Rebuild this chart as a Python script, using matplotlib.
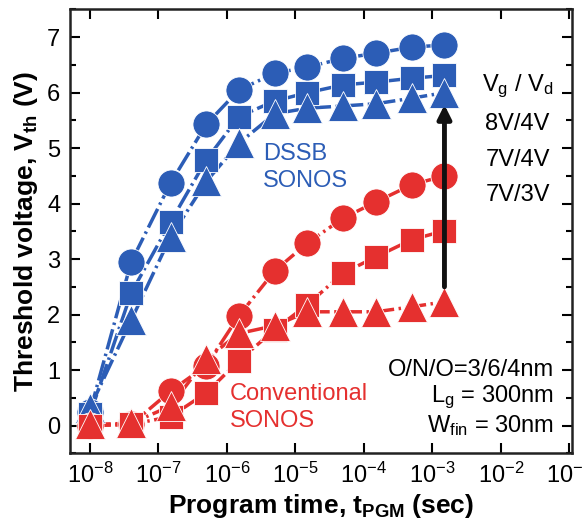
import numpy as np
import matplotlib
matplotlib.use("Agg")
import matplotlib.pyplot as plt

plt.rcParams['font.family'] = ['Liberation Sans', 'DejaVu Sans']
plt.rcParams['mathtext.fontset'] = 'custom'
plt.rcParams['mathtext.rm'] = 'Liberation Sans'
plt.rcParams['mathtext.it'] = 'Liberation Sans'
plt.rcParams['mathtext.bf'] = 'Liberation Sans:bold'

# program time (sec)
t_pgm = [1e-8, 4e-8, 1.5e-7, 5e-7, 1.5e-6, 5e-6, 1.5e-5, 5e-5, 1.5e-4, 5e-4, 1.5e-3]

# DSSB SONOS, Vth (V)
dssb_8v4v = [0.25, 2.95, 4.37, 5.43, 6.05, 6.35, 6.46, 6.62, 6.71, 6.82, 6.86]
dssb_7v4v = [0.20, 2.39, 3.67, 4.79, 5.57, 5.85, 6.00, 6.14, 6.19, 6.26, 6.31]
dssb_7v3v = [0.32, 1.90, 3.40, 4.40, 5.09, 5.62, 5.72, 5.76, 5.80, 5.90, 6.00]

# conventional SONOS, Vth (V)
conv_8v4v = [0.0, 0.02, 0.62, 1.08, 1.98, 2.79, 3.29, 3.74, 4.03, 4.34, 4.50]
conv_7v4v = [0.0, 0.02, 0.16, 0.59, 1.17, 1.73, 2.18, 2.75, 3.04, 3.35, 3.51]
conv_7v3v = [0.02, 0.04, 0.35, 1.20, 1.66, 1.80, 2.05, 2.05, 2.05, 2.14, 2.23]

blue = '#2c5db6'
red = '#e5302f'

fig = plt.figure(figsize=(5.83, 5.24), dpi=100)
ax = fig.add_axes([0.12, 0.135, 0.861, 0.847])

dash = (0, (6, 1.3, 0.7, 1.3))
for ys, col in [(dssb_8v4v, blue), (dssb_7v4v, blue), (dssb_7v3v, blue),
                (conv_8v4v, red), (conv_7v4v, red), (conv_7v3v, red)]:
    ax.plot(t_pgm, ys, color=col, lw=2.5, ls=dash, zorder=2)

marks = ['o', 's', '^']
sizes = [19.5, 17, 22]
for ys, m, s in zip([dssb_8v4v, dssb_7v4v, dssb_7v3v], marks, sizes):
    ax.plot(t_pgm, ys, ls='none', marker=m, ms=s, color=blue, mec='white', mew=0.6, zorder=3)
for ys, m, s in zip([conv_8v4v, conv_7v4v, conv_7v3v], marks, sizes):
    ax.plot(t_pgm, ys, ls='none', marker=m, ms=s, color=red, mec='white', mew=0.6, zorder=3)

# arrow
ax.annotate('', xy=(1.5e-3, 5.78), xytext=(1.5e-3, 2.5),
            arrowprops=dict(arrowstyle='-|>', color='#111111', lw=3.5,
                            mutation_scale=20, shrinkA=0, shrinkB=0), zorder=4)

ax.set_xscale('log')
ax.set_xlim(5.1e-9, 0.109)
ax.set_ylim(-0.5, 7.5)
ax.set_yticks(range(0, 8))
ax.set_yticks(np.arange(-0.5, 7.6, 0.5), minor=True)
ax.set_xticks([1e-8, 1e-7, 1e-6, 1e-5, 1e-4, 1e-3, 1e-2, 1e-1])

ax.tick_params(which='both', direction='in', top=True, right=True, width=1.5)
ax.tick_params(which='major', length=7, labelsize=17, pad=7)
ax.tick_params(which='minor', length=4)
for sp in ax.spines.values():
    sp.set_linewidth(1.8)
    sp.set_color('#222222')

ax.set_xlabel('Program time, t$_{\\mathbf{PGM}}$ (sec)', fontsize=19, fontweight='bold', labelpad=3)
ax.set_ylabel('Threshold voltage, V$_{\\mathbf{th}}$ (V)', fontsize=19, fontweight='bold', labelpad=5)

ax.text(3.4e-6, 4.65, 'DSSB\nSONOS', color=blue, fontsize=17, ha='left', va='center', linespacing=1.3)
ax.text(1.1e-6, 0.33, 'Conventional\nSONOS', color=red, fontsize=17, ha='left', va='center', linespacing=1.3)

ax.text(0.0175, 6.12, 'V$_\\mathrm{g}$ / V$_\\mathrm{d}$', fontsize=17, ha='center', va='center')
ax.text(0.0175, 5.43, '8V/4V', fontsize=17, ha='center', va='center')
ax.text(0.0175, 4.78, '7V/4V', fontsize=17, ha='center', va='center')
ax.text(0.0175, 4.15, '7V/3V', fontsize=17, ha='center', va='center')

ax.text(0.06, 1.0, 'O/N/O=3/6/4nm', fontsize=17, ha='right', va='center')
ax.text(0.06, 0.5, 'L$_\\mathrm{g}$ = 300nm', fontsize=17, ha='right', va='center')
ax.text(0.06, 0.0, 'W$_\\mathrm{fin}$ = 30nm', fontsize=17, ha='right', va='center')

fig.savefig('out.png', dpi=100)
